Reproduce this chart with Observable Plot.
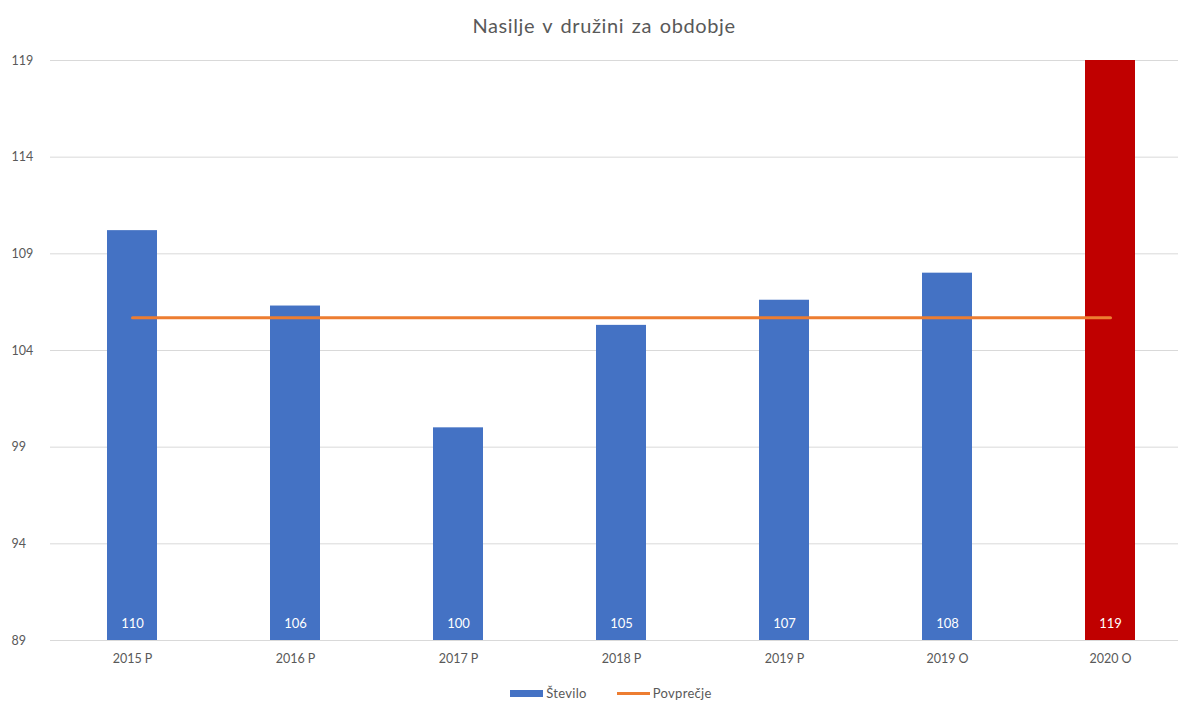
<!DOCTYPE html>
<html>
<head>
<meta charset="utf-8">
<script src="https://cdn.jsdelivr.net/npm/d3@7"></script>
<script src="https://cdn.jsdelivr.net/npm/@observablehq/plot@0.6"></script>
<style>
  html, body { margin: 0; padding: 0; background: #fff; }
  body { width: 1178px; height: 702px; overflow: hidden; font-family: Lato, "Open Sans", sans-serif; color: #595959; }
  #title { height: 45px; line-height: 50px; text-align: center; font-size: 20px; letter-spacing: 0.6px; word-spacing: 2px; color: #595959; padding-left: 30px; box-sizing: border-box; }
  #legend { height: 27px; display: flex; justify-content: center; align-items: center; font-size: 13px; letter-spacing: 0.3px; color: #595959; padding-left: 44px; padding-top: 9px; box-sizing: border-box; }
  .sw { display: inline-block; width: 33px; margin-right: 3px; }
  .item { display: flex; align-items: center; margin: 0 15px; }
</style>
</head>
<body>
<div id="title">Nasilje v družini za obdobje</div>
<div id="chart"></div>
<div id="legend">
  <span class="item"><span class="sw" style="height:7px;background:#4472C4"></span>Število</span>
  <span class="item"><span class="sw" style="height:3px;background:#ED7D31"></span>Povprečje</span>
</div>
<script>
const categories = ["2015 P", "2016 P", "2017 P", "2018 P", "2019 P", "2019 O", "2020 O"];
const values = [110.2, 106.3, 100.0, 105.3, 106.6, 108.0, 119.0];
const labels = ["110", "106", "100", "105", "107", "108", "119"];
const average = [105.7, 105.7, 105.7, 105.7, 105.7, 105.7, 105.7];
const highlight = [false, false, false, false, false, false, true];
const yTicks = [89, 94, 99, 104, 109, 114, 119];

const data = categories.map((c, i) => ({
  cat: c, value: values[i], label: labels[i], avg: average[i], hi: highlight[i]
}));

const chart = Plot.plot({
  width: 1178,
  height: 630,
  marginTop: 15,
  marginBottom: 35,
  marginLeft: 50,
  marginRight: 0,
  style: { fontFamily: "Lato, 'Open Sans', sans-serif", color: "#595959", background: "#fff" },
  x: { type: "band", domain: categories, range: [50, 1192], paddingInner: 0.6935, paddingOuter: 0.3467, label: null },
  y: { domain: [89, 119], label: null },
  marks: [
    Plot.gridY(yTicks, { stroke: "#D9D9D9", strokeOpacity: 1, strokeWidth: 1 }),
    Plot.barY(data, { x: "cat", y1: 89, y2: "value", fill: d => d.hi ? "#C00000" : "#4472C4" }),
    Plot.line(data, { x: "cat", y: "avg", stroke: "#ED7D31", strokeWidth: 3 }),
    Plot.text(data, { x: "cat", y: () => 89, text: "label", fill: "white", fontSize: 13, dy: -17 }),
    Plot.axisY(yTicks, { tickSize: 0, tickPadding: 39, textAnchor: "start", fontSize: 12.5, fill: "#595959" }),
    Plot.axisX({ tickSize: 0, tickPadding: 14, fontSize: 12.5, fill: "#595959" })
  ]
});
document.getElementById("chart").appendChild(chart);
</script>
</body>
</html>
